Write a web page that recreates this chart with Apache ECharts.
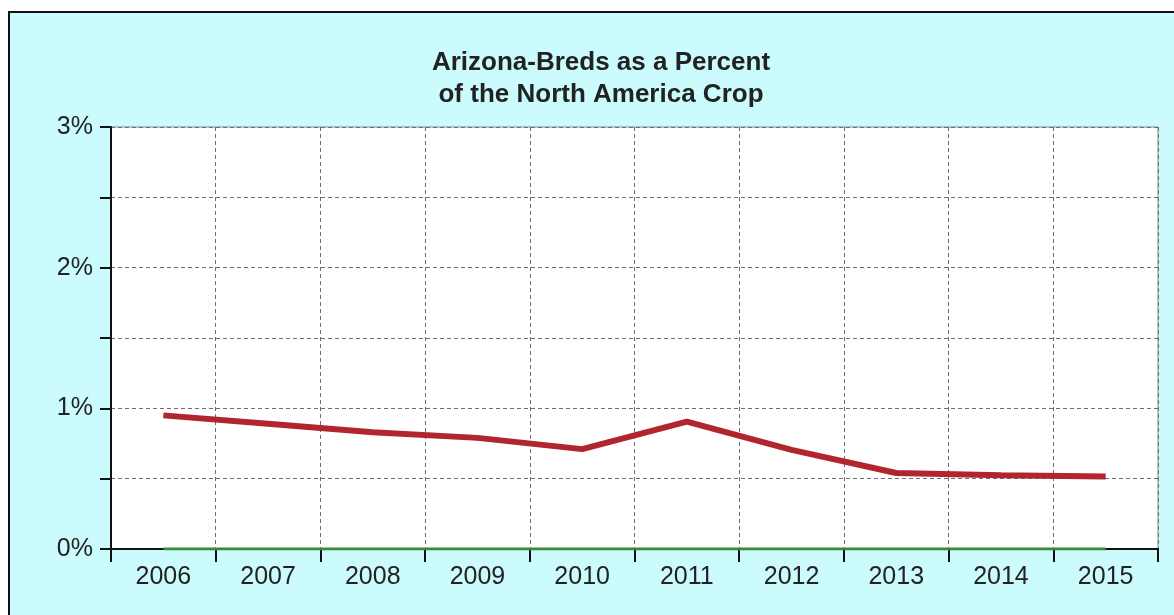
<!DOCTYPE html>
<html>
<head>
<meta charset="utf-8">
<script src="https://cdn.jsdelivr.net/npm/echarts@6/dist/echarts.min.js"></script>
<style>
html,body{margin:0;padding:0;background:#ffffff;}
#main{width:1174px;height:615px;}
</style>
</head>
<body>
<div id="main"></div>
<script>
const titleLines = ['Arizona-Breds as a Percent', 'of the North America Crop'];
const years = ['2006','2007','2008','2009','2010','2011','2012','2013','2014','2015'];
const azPercent = [0.95, 0.89, 0.83, 0.79, 0.71, 0.905, 0.705, 0.54, 0.525, 0.515];
const baseline = [0, 0, 0, 0, 0, 0, 0, 0, 0, 0];
const yTickLabels = {0: '0%', 1: '1%', 2: '2%', 3: '3%'};

const chart = echarts.init(document.getElementById('main'), null, {renderer: 'canvas'});
const fontFam = '"Liberation Sans", Arial, sans-serif';
chart.setOption({
  backgroundColor: '#ffffff',
  animation: false,
  graphic: [{
    type: 'rect',
    z: -10,
    silent: true,
    shape: {x: 9, y: 12, width: 1200, height: 650},
    style: {fill: '#ccfbfe', stroke: '#111111', lineWidth: 2}
  }],
  title: {
    text: titleLines.join('\n'),
    left: 596,
    textAlign: 'center',
    top: 42,
    textStyle: {fontFamily: fontFam, fontSize: 26, fontWeight: 'bold', color: '#222222', lineHeight: 32}
  },
  grid: {
    left: 111, top: 127, right: 16, bottom: 66,
    show: true, backgroundColor: '#ffffff', borderColor: '#888888', borderWidth: 1,
    containLabel: false
  },
  xAxis: {
    type: 'category',
    data: years,
    boundaryGap: true,
    axisLine: {lineStyle: {color: '#111111', width: 2}},
    axisTick: {show: true, length: 13, lineStyle: {color: '#111111', width: 2}},
    axisLabel: {fontFamily: fontFam, fontSize: 25, color: '#222222', margin: 16},
    splitLine: {show: true, interval: 0, lineStyle: {color: '#6f6f6f', type: [4, 3], width: 1}}
  },
  yAxis: {
    type: 'value',
    min: 0, max: 3, interval: 0.5,
    axisLine: {show: true, lineStyle: {color: '#111111', width: 2}},
    axisTick: {show: true, length: 11, lineStyle: {color: '#111111', width: 2}},
    axisLabel: {
      fontFamily: fontFam, fontSize: 25, color: '#222222', margin: 18,
      formatter: v => (yTickLabels[v] !== undefined ? yTickLabels[v] : '')
    },
    splitLine: {show: true, lineStyle: {color: '#6f6f6f', type: [4, 3], width: 1}}
  },
  series: [
    {
      type: 'line', data: baseline, symbol: 'none',
      lineStyle: {color: '#3a8a3a', width: 3}, z: 3
    },
    {
      type: 'line', data: azPercent, symbol: 'none',
      lineStyle: {color: '#b0262c', width: 6}, z: 4
    }
  ]
});
</script>
</body>
</html>
